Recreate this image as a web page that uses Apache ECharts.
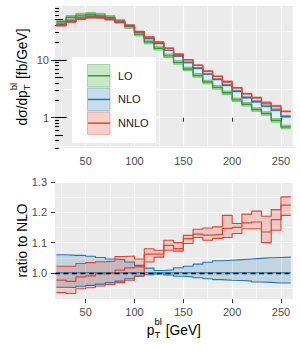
<!DOCTYPE html>
<html><head><meta charset="utf-8">
<script src="https://cdn.jsdelivr.net/npm/echarts@6/dist/echarts.min.js"></script>
<style>html,body{margin:0;padding:0;background:#fff}#c{width:300px;height:350px}</style>
</head><body><div id="c"></div>
<script>
// ---------- data ----------
const binEdges = [20,30,40,50,60,70,80,90,100,110,120,130,140,150,160,170,180,190,200,210,220,230,240,250,260];
const xTicks = [50,100,150,200,250];
const xMinorTicks = [25,75,125,175,225];
const topYTicks = [1,10];
const topYMinor = [0.316,3.16,31.6];
const logTicksLong = [1,10];
const logTicksMid = [0.5,5,50];
const logTicksShort = [0.3,0.4,0.6,0.7,0.8,0.9,2,3,4,6,7,8,9,20,30,40,60,70,80];
const ratioTicks = [1.0,1.1,1.2,1.3];
const ratioMinor = [0.95,1.05,1.15,1.25];

const loCentral = [46,55,60,62,60,55,47,38,28,20.5,16,11.8,9.1,7.0,5.4,4.15,3.35,2.7,2.04,1.71,1.39,1.18,0.9,0.69];
const loLow = [42.8,51.2,55.8,57.7,55.8,51.2,43.7,35.3,26.0,19.1,14.9,11.0,8.46,6.51,5.02,3.86,3.12,2.51,1.90,1.59,1.29,1.10,0.837,0.642];
const loHigh = [49.5,59.1,64.5,66.7,64.5,59.1,50.5,40.9,30.1,22.0,17.2,12.7,9.78,7.53,5.81,4.46,3.60,2.90,2.19,1.84,1.49,1.27,0.968,0.742];
const nloCentral = [41.0,47.3,52.7,55.6,54.6,51.0,45.6,38.8,30.4,23.5,19.3,14.7,11.7,9.07,7.18,5.69,4.61,3.66,2.87,2.23,1.90,1.59,1.36,1.05];
const nloLow = [39.1,45.0,50.4,53.3,52.6,49.4,44.4,38.1,30.1,23.4,19.2,14.6,11.6,8.95,7.07,5.58,4.51,3.57,2.80,2.17,1.84,1.54,1.32,1.015];
const nloHigh = [43.5,50.0,55.8,58.7,57.4,53.3,47.6,40.2,31.2,23.9,19.5,14.8,11.9,9.27,7.39,5.89,4.79,3.81,3.00,2.33,1.99,1.67,1.43,1.10];
const nnloCentral = [40.0,46.0,52.0,55.0,54.5,51.0,46.0,39.5,31.0,25.0,20.5,16.0,12.6,10.1,8.10,6.40,5.20,4.20,3.30,2.60,2.22,1.80,1.60,1.29];
const nnloLow = [38.3,44.1,50.0,52.9,52.3,49.1,44.1,37.9,30.1,24.3,20.3,15.8,12.5,9.95,8.02,6.30,5.14,4.09,3.24,2.56,2.18,1.75,1.55,1.25];
const nnloHigh = [41.9,48.3,54.3,57.5,56.6,53.0,48.1,41.0,31.8,25.4,20.7,16.3,12.9,10.2,8.21,6.53,5.31,4.36,3.34,2.66,2.29,1.89,1.64,1.31];

const nloRatioCentral = [1,1,1,1,1,1,1,1,1,1,1,1,1,1,1,1,1,1,1,1,1,1,1,1];
const nloRatioLow = [0.953,0.952,0.956,0.959,0.963,0.968,0.973,0.981,0.989,0.994,0.997,0.993,0.989,0.987,0.984,0.981,0.978,0.976,0.975,0.973,0.970,0.969,0.967,0.967];
const nloRatioHigh = [1.060,1.058,1.058,1.055,1.051,1.046,1.044,1.036,1.025,1.016,1.008,1.010,1.017,1.022,1.029,1.035,1.040,1.042,1.044,1.046,1.048,1.050,1.051,1.052];
const nnloRatioCentral = [0.976,0.972,0.987,0.990,0.998,1.000,1.009,1.017,1.020,1.062,1.062,1.091,1.080,1.113,1.128,1.125,1.127,1.147,1.150,1.165,1.168,1.135,1.176,1.224];
const nnloRatioLow = [0.935,0.932,0.948,0.951,0.957,0.962,0.968,0.976,0.990,1.036,1.052,1.075,1.072,1.097,1.117,1.108,1.114,1.117,1.130,1.146,1.146,1.100,1.141,1.190];
const nnloRatioHigh = [1.022,1.022,1.031,1.034,1.037,1.039,1.054,1.056,1.046,1.080,1.075,1.108,1.100,1.124,1.144,1.148,1.152,1.190,1.163,1.194,1.204,1.187,1.209,1.251];

const legendLabels = ['LO','NLO','NNLO'];

// ---------- styling ----------
const F = '"Liberation Sans", Arial, Helvetica, sans-serif';
const C = {LO:[44,160,44], NLO:[31,120,180], NNLO:[232,65,43]};
const rgba = (c,a) => `rgba(${c[0]},${c[1]},${c[2]},${a})`;
const L = v => Math.log10(v);
const I = v => v;

const X0 = 18.6, X1 = 262;
const TOP = {min:-0.525, max:1.936};
const BOT = {min:0.914, max:1.3};

function stepPts(vals, f) {
  const pts = vals.map((v,i) => [binEdges[i], f(v)]);
  pts.push([binEdges[vals.length], f(vals[vals.length-1])]);
  return pts;
}
function lineSeries(id, vals, f, xi, yi, color, w, extra) {
  return Object.assign({type:'line', id, xAxisIndex:xi, yAxisIndex:yi, step:'end', data:stepPts(vals, f),
    symbol:'none', showSymbol:false, silent:true, animation:false, z:2, clip:true,
    lineStyle:{color, width:w}}, extra || {});
}
function bandSeries(id, lows, highs, f, xi, yi, fill, edge, edgeW) {
  const rows = lows.map((v,i) => [binEdges[i], binEdges[i+1], f(v), f(highs[i])]);
  const fillSeries = {type:'custom', id:id+'_fill', xAxisIndex:xi, yAxisIndex:yi, data:rows,
    encode:{x:[0,1], y:[2,3]}, silent:true, animation:false, z:2, clip:true,
    renderItem:(params, api) => {
      if (params.dataIndex !== 0) return {type:'group', children:[]};
      const up = [], dn = [];
      rows.forEach(r => {
        up.push(api.coord([r[0], r[3]]), api.coord([r[1], r[3]]));
        dn.push(api.coord([r[0], r[2]]), api.coord([r[1], r[2]]));
      });
      return {type:'polygon', shape:{points: up.concat(dn.reverse())}, style:{fill, stroke:null}};
    }};
  return [fillSeries,
    lineSeries(id+'_lo', lows, f, xi, yi, edge, edgeW),
    lineSeries(id+'_hi', highs, f, xi, yi, edge, edgeW)];
}

function xAxisPair(gi, margin) {
  return [
    {type:'value', gridIndex:gi, min:X0, max:X1, position:'bottom',
     axisLine:{show:false},
     axisTick:{show:true, customValues:xTicks, length:4, lineStyle:{color:'#333', width:1}},
     axisLabel:{customValues:xTicks, color:'#4d4d4d', fontSize:11, fontFamily:F, margin},
     splitLine:{show:true, lineStyle:{color:'#fff', width:1.2}}},
    {type:'value', gridIndex:gi, min:X0, max:X1, position:'bottom',
     axisLine:{show:false}, axisTick:{show:false, customValues:xMinorTicks},
     axisLabel:{show:false}, splitLine:{show:true, lineStyle:{color:'#fff', width:0.6}}}
  ];
}
function hiddenY(gi, rng, vals, split, ticks) {
  return {type:'value', gridIndex:gi, min:rng.min, max:rng.max, position:'left', offset:0,
    axisLine:{show:false},
    axisTick: ticks ? Object.assign({show:true, customValues:vals}, ticks) : {show:false, customValues:vals},
    axisLabel:{show:false},
    splitLine: split ? {show:true, lineStyle:split} : {show:false}};
}

const yAxes = [
  {type:'value', gridIndex:0, min:TOP.min, max:TOP.max, position:'left',
   axisLine:{show:false},
   axisTick:{show:true, customValues:topYTicks.map(L), length:4, lineStyle:{color:'#333', width:1}},
   axisLabel:{customValues:topYTicks.map(L), color:'#4d4d4d', fontSize:11, fontFamily:F, margin:6,
     formatter: v => String(Math.round(Math.pow(10, v)))},
   splitLine:{show:true, lineStyle:{color:'#fff', width:1.2}}},
  hiddenY(0, TOP, topYMinor.map(L), {color:'#fff', width:0.6}),
  hiddenY(0, TOP, logTicksLong.map(L), null, {inside:true, length:12, lineStyle:{color:'#000', width:1.1}}),
  hiddenY(0, TOP, logTicksMid.map(L), null, {inside:true, length:8, lineStyle:{color:'#000', width:1.1}}),
  hiddenY(0, TOP, logTicksShort.map(L), null, {inside:true, length:4, lineStyle:{color:'#000', width:1.1}}),
  {type:'value', gridIndex:1, min:BOT.min, max:BOT.max, position:'left',
   axisLine:{show:false},
   axisTick:{show:true, customValues:ratioTicks, length:4, lineStyle:{color:'#333', width:1}},
   axisLabel:{customValues:ratioTicks, color:'#4d4d4d', fontSize:11, fontFamily:F, margin:8,
     formatter: v => v.toFixed(1)},
   splitLine:{show:true, lineStyle:{color:'#fff', width:1.2}}},
  hiddenY(1, BOT, ratioMinor, {color:'#fff', width:0.6})
];

const series = [];
// top panel
series.push(...bandSeries('lo', loLow, loHigh, L, 0, 0, rgba(C.LO,0.3), rgba(C.LO,0.5), 1));
series.push(lineSeries('loC', loCentral, L, 0, 0, rgba(C.LO,1), 1.4));
series.push(...bandSeries('nlo', nloLow, nloHigh, L, 0, 0, rgba(C.NLO,0.3), rgba(C.NLO,0.5), 1));
series.push(lineSeries('nloC', nloCentral, L, 0, 0, rgba(C.NLO,1), 1.4));
series.push(...bandSeries('nnlo', nnloLow, nnloHigh, L, 0, 0, rgba(C.NNLO,0.3), rgba(C.NNLO,0.5), 1));
series.push(lineSeries('nnloC', nnloCentral, L, 0, 0, rgba(C.NNLO,1), 1.4));
// bottom panel
series.push(...bandSeries('rnlo', nloRatioLow, nloRatioHigh, I, 2, 5, rgba(C.NLO,0.2), rgba(C.NLO,1), 1.1));
series.push(lineSeries('rnloC', nloRatioCentral, I, 2, 5, rgba(C.NLO,1), 1.2, {
  markLine:{silent:true, symbol:['none','none'], label:{show:false}, animation:false,
    lineStyle:{color:'#000', type:[5,3.5], width:1.3}, data:[{yAxis:1}]}}));
series.push(...bandSeries('rnnlo', nnloRatioLow, nnloRatioHigh, I, 2, 5, rgba(C.NNLO,0.2), rgba(C.NNLO,1), 1.1));
series.push(lineSeries('rnnloC', nnloRatioCentral, I, 2, 5, rgba(C.NNLO,1), 1.2));

// ---------- text helpers ----------
const mctx = document.createElement('canvas').getContext('2d');
function tw(t, fs) { mctx.font = fs + 'px ' + F; return mctx.measureText(t).width; }
function mathTitle(parts, cx, cy, rot) {
  let W = 0;
  const items = [];
  parts.forEach(p => {
    if (p.stack) {
      let w = 0;
      p.stack.forEach(s => { items.push({t:s.t, fs:s.fs, dy:s.dy, x:W}); w = Math.max(w, tw(s.t, s.fs)); });
      W += w;
    } else {
      items.push({t:p.t, fs:p.fs, dy:p.dy||0, x:W});
      W += tw(p.t, p.fs);
    }
  });
  return {type:'group', x:cx, y:cy, rotation:rot, z:100,
    children: items.map(it => ({type:'text', x:it.x - W/2, y:it.dy, z:100,
      style:{text:it.t, fontSize:it.fs, fontFamily:F, fill:'#000', align:'left', verticalAlign:'middle'}}))};
}
const TFS = 13.75, SFS = 9.6;

const graphic = [];
graphic.push(mathTitle([{t:'dσ/dp', fs:TFS}, {stack:[{t:'bl', fs:SFS, dy:-8.5}, {t:'T', fs:SFS, dy:4.5}]}, {t:' [fb/GeV]', fs:TFS}], 22, 77, Math.PI/2));
graphic.push(mathTitle([{t:'ratio to NLO', fs:TFS}], 22, 240.5, Math.PI/2));
graphic.push(mathTitle([{t:'p', fs:TFS}, {stack:[{t:'bl', fs:SFS, dy:-8.5}, {t:'T', fs:SFS, dy:4.5}]}, {t:' [GeV]', fs:TFS}], 173.9, 330.2, 0));

// legend
graphic.push({type:'rect', z:100, shape:{x:72, y:57, width:84, height:86}, style:{fill:'#fff'}});
legendLabels.forEach((lab, i) => {
  const c = C[lab];
  const top = 64.5 + i * 23.7;
  graphic.push({type:'rect', z:101, shape:{x:87.5, y:top, width:22.5, height:22.5},
    style:{fill:rgba(c,0.25), stroke:rgba(c,0.35), lineWidth:1}});
  graphic.push({type:'line', z:102, shape:{x1:88, y1:top+11.25, x2:110, y2:top+11.25},
    style:{stroke:rgba(c,1), lineWidth:1.5}});
  graphic.push({type:'text', z:102, x:118, y:top+11.25,
    style:{text:lab, fontSize:11, fontFamily:F, fill:'#1a1a1a', align:'left', verticalAlign:'middle'}});
});

const chart = echarts.init(document.getElementById('c'), null, {renderer:'svg', width:300, height:350});
chart.setOption({
  animation:false,
  backgroundColor:'#fff',
  grid:[
    {left:55, top:6, width:237.7, height:142, show:true, backgroundColor:'#ebebeb', borderWidth:0},
    {left:55, top:182, width:237.7, height:117, show:true, backgroundColor:'#ebebeb', borderWidth:0}
  ],
  xAxis:[...xAxisPair(0, 7), ...xAxisPair(1, 7)],
  yAxis: yAxes,
  series,
  graphic
});
</script></body></html>
